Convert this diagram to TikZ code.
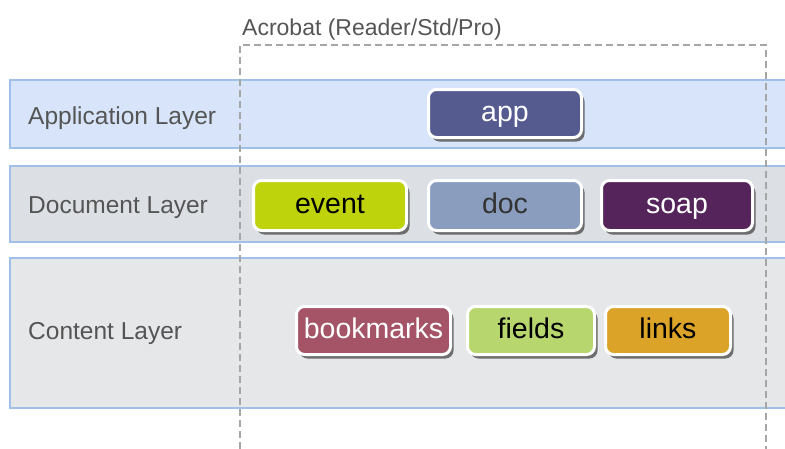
\documentclass[tikz,border=0pt]{standalone}
\usepackage{fontspec}
\setmainfont{Liberation Sans}
\usetikzlibrary{shadows}

\definecolor{appfill}{HTML}{D7E4F9}
\definecolor{docfill}{HTML}{DCDFE3}
\definecolor{cntfill}{HTML}{E6E7E9}
\definecolor{bandline}{HTML}{9FC0E8}
\definecolor{tagtext}{HTML}{555555}
\definecolor{appcol}{HTML}{555A8F}
\definecolor{eventcol}{HTML}{BED30C}
\definecolor{doccol}{HTML}{8A9DBF}
\definecolor{soapcol}{HTML}{55245A}
\definecolor{bmcol}{HTML}{A55468}
\definecolor{fieldcol}{HTML}{B8D66E}
\definecolor{linkcol}{HTML}{DBA428}

\tikzset{
  layertag/.style={anchor=base west, inner sep=0pt, text=tagtext, font=\fontsize{24.5}{28}\selectfont},
  modbox/.style={draw=white, line width=3pt, rounded corners=8pt,
    minimum height=48, inner xsep=2pt, text height=22pt, text depth=6pt,
    font=\fontsize{28.5}{32}\selectfont,
    drop shadow={shadow xshift=3pt, shadow yshift=-4pt, fill=black!65, opacity=0.85}},
}

\begin{document}
\begin{tikzpicture}[x=1pt,y=-1pt]

  \clip (0,0) rectangle (785,448);
  \fill[white] (0,0) rectangle (785,448);

  % the three layers
  \draw[bandline, fill=appfill, line width=1.2pt] (10,80) rectangle (800,148);
  \draw[bandline, fill=docfill, line width=1.2pt] (10,166) rectangle (800,242);
  \draw[bandline, fill=cntfill, line width=1.2pt] (10,258) rectangle (800,408);

  \node[layertag] (appl) at (28,124) {Application Layer};
  \node[layertag] (docl) at (28,213) {Document Layer};
  \node[layertag] (cntl) at (28,339) {Content Layer};

  % acrobat frame
  \draw[gray!70, dashed, line width=1.2pt, dash pattern=on 7pt off 4pt]
    (240,460) -- (240,45) -- (766,45) -- (766,460);
  \node[anchor=base west, text=tagtext, font=\fontsize{23}{26}\selectfont,
        inner sep=0pt] (acro) at (242,35) {Acrobat (Reader/Std/Pro)};

  % objects
  \node[modbox, fill=appcol, text=white, minimum width=153] (app) at (505,113.5) {app};

  \node[modbox, fill=eventcol, text=black, minimum width=153, minimum height=50] (event) at (330,205.5) {event};
  \node[modbox, fill=doccol, text=black!80, minimum width=153, minimum height=50] (doc) at (505,205.5) {doc};
  \node[modbox, fill=soapcol, text=white, minimum width=151, minimum height=50] (soap) at (677,205.5) {soap};

  \node[modbox, fill=bmcol, text=white, minimum width=154] (bookmarks) at (373.5,330.5) {bookmarks};
  \node[modbox, fill=fieldcol, text=black, minimum width=127] (fields) at (531,330.5) {fields};
  \node[modbox, fill=linkcol, text=black, minimum width=125] (links) at (668,330.5) {links};

\end{tikzpicture}
\end{document}
